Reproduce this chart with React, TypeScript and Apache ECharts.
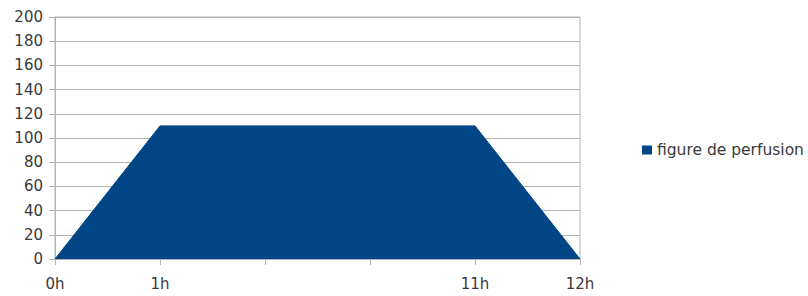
import React, { useEffect, useRef } from "react";
import * as echarts from "echarts";

const categories = ["0h", "1h", "", "", "11h", "12h"];
const perfusion = [0, 110, 110, 110, 110, 0];
const seriesName = "figure de perfusion";

export default function App() {
  const ref = useRef<HTMLDivElement>(null);
  useEffect(() => {
    if (!ref.current) return;
    const chart = echarts.init(ref.current, null, { renderer: "svg" });
    const gray = "#b3b3b3";
    const font = "DejaVu Sans, Liberation Sans, sans-serif";
    chart.setOption({
      animation: false,
      backgroundColor: "#ffffff",
      textStyle: { fontFamily: font },
      grid: {
        left: 55,
        right: 228,
        top: 17,
        bottom: 37,
        show: true,
        borderColor: gray,
        borderWidth: 1,
        backgroundColor: "transparent",
      },
      legend: {
        data: [{ name: seriesName, icon: "rect" }],
        left: 637,
        top: 137,
        itemWidth: 10,
        itemHeight: 9,
        itemGap: 6,
        textStyle: { fontSize: 15.5, color: "#3a3a3a", fontFamily: font },
      },
      xAxis: {
        type: "category",
        data: categories,
        boundaryGap: false,
        axisLine: { lineStyle: { color: gray, width: 1 } },
        axisTick: { show: true, alignWithLabel: true, length: 6, interval: 0, lineStyle: { color: gray } },
        axisLabel: { interval: 0, margin: 17, fontSize: 15, color: "#3a3a3a", fontFamily: font },
        splitLine: { show: false },
      },
      yAxis: {
        type: "value",
        min: 0,
        max: 200,
        interval: 20,
        axisLine: { show: true, lineStyle: { color: gray, width: 1 } },
        axisTick: { show: true, length: 6, lineStyle: { color: gray } },
        axisLabel: { margin: 12, fontSize: 15, color: "#3a3a3a", fontFamily: font },
        splitLine: { show: true, lineStyle: { color: gray, width: 1 } },
      },
      series: [
        {
          name: seriesName,
          type: "line",
          data: perfusion,
          showSymbol: false,
          symbol: "none",
          itemStyle: { color: "#004586" },
          lineStyle: { color: "#004586", width: 1 },
          areaStyle: { color: "#004586", opacity: 1 },
        },
      ],
    });
    return () => chart.dispose();
  }, []);
  return (
    <div
      ref={ref}
      style={{ position: "fixed", left: 0, top: 0, width: 808, height: 296, background: "#fff" }}
    />
  );
}
